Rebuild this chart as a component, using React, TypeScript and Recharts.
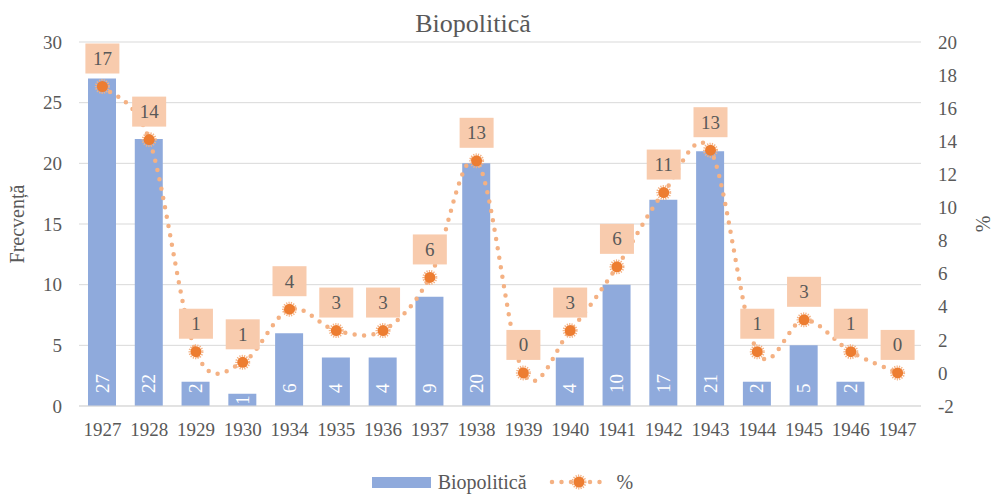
import React from 'react';
import { ComposedChart, Bar, Line, XAxis, YAxis, CartesianGrid, Legend, LabelList } from 'recharts';

const years = ['1927', '1928', '1929', '1930', '1934', '1935', '1936', '1937', '1938', '1939', '1940', '1941', '1942', '1943', '1944', '1945', '1946', '1947'];
const freq = [27, 22, 2, 1, 6, 4, 4, 9, 20, 0, 4, 10, 17, 21, 2, 5, 2, 0];
const pct = [17.31, 14.1, 1.28, 0.64, 3.85, 2.56, 2.56, 5.77, 12.82, 0, 2.56, 6.41, 10.9, 13.46, 1.28, 3.21, 1.28, 0];
const pctLabels = ['17', '14', '1', '1', '4', '3', '3', '6', '13', '0', '3', '6', '11', '13', '1', '3', '1', '0'];
const leftTicks = [0, 5, 10, 15, 20, 25, 30];
const rightTicks = [-2, 0, 2, 4, 6, 8, 10, 12, 14, 16, 18, 20];

const data = years.map((y, i) => ({ year: y, freq: freq[i], pct: pct[i] }));

const FONT = "'Liberation Serif', Tinos, 'DejaVu Serif', serif";
const GREY = '#595959';
const BAR = '#8FAADC';
const LINE = '#F4B183';
const MARK = '#ED7D31';
const BOX = '#F8CBAD';

// Excel-like smoothing (Catmull-Rom as cubic Bezier)
const excelCurve = (context: any) => {
  let pts: number[][] = [];
  return {
    areaStart() {},
    areaEnd() {},
    lineStart() { pts = []; },
    point(x: number, y: number) { pts.push([+x, +y]); },
    lineEnd() {
      if (!pts.length) return;
      context.moveTo(pts[0][0], pts[0][1]);
      for (let i = 0; i < pts.length - 1; i++) {
        const p0 = pts[i - 1] || pts[i];
        const p1 = pts[i];
        const p2 = pts[i + 1];
        const p3 = pts[i + 2] || pts[i + 1];
        const c1x = p1[0] + (p2[0] - p0[0]) / 6;
        const c1y = p1[1] + (p2[1] - p0[1]) / 6;
        const c2x = p2[0] - (p3[0] - p1[0]) / 6;
        const c2y = p2[1] - (p3[1] - p1[1]) / 6;
        context.bezierCurveTo(c1x, c1y, c2x, c2y, p2[0], p2[1]);
      }
    },
  };
};

const Marker = (props: any) => {
  const { cx, cy, index } = props;
  if (cx == null || cy == null) return <g key={`m${index}`} />;
  return (
    <g key={`m${index}`}>
      <circle cx={cx} cy={cy} r={6.5} fill="none" stroke={LINE} strokeWidth={2} strokeDasharray="1.2 1.2" />
      <circle cx={cx} cy={cy} r={5.5} fill={MARK} />
    </g>
  );
};

const PctLabel = (props: any) => {
  const { x, y, index } = props;
  const cy = y - 28;
  return (
    <g>
      <rect x={x - 17} y={cy - 15} width={34} height={30} fill={BOX} />
      <text x={x} y={cy} textAnchor="middle" dominantBaseline="central" fontFamily={FONT} fontSize={19} fill={GREY}>
        {pctLabels[index]}
      </text>
    </g>
  );
};

const BarLabel = (props: any) => {
  const { x, y, width, height, value } = props;
  if (!value) return null;
  const cx = x + width / 2;
  const fits = height >= 24;
  const by = fits ? y + height - 13 : y + height / 2;
  return (
    <text x={cx} y={by} transform={`rotate(-90 ${cx} ${by})`} textAnchor={fits ? 'start' : 'middle'} dominantBaseline="central" fontFamily={FONT} fontSize={19} fill="#FFFFFF">
      {value}
    </text>
  );
};

const LegendContent = () => (
  <div style={{ height: 24, display: 'flex', alignItems: 'center', justifyContent: 'center', fontFamily: FONT, fontSize: 20, color: GREY, paddingLeft: 10 }}>
    <span style={{ display: 'inline-block', width: 59, height: 11, background: BAR, marginRight: 7 }} />
    <span>Biopolitică</span>
    <svg width={60} height={16} style={{ marginLeft: 22, marginRight: 8 }}>
      <line x1={3} y1={8} x2={57} y2={8} stroke={LINE} strokeWidth={4.5} strokeDasharray="0 9.5" strokeLinecap="round" />
      <circle cx={30} cy={8} r={6.5} fill="none" stroke={LINE} strokeWidth={2} strokeDasharray="1.2 1.2" />
      <circle cx={30} cy={8} r={5.5} fill={MARK} />
    </svg>
    <span>%</span>
  </div>
);

export default function App() {
  return (
    <div style={{ position: 'absolute', left: 0, top: 0, width: 995, height: 496, background: '#fff', fontFamily: FONT }}>
      <div style={{ position: 'absolute', left: 373, width: 200, top: 11, textAlign: 'center', fontFamily: FONT, fontSize: 26, lineHeight: '26px', color: GREY, zIndex: 2 }}>
        Biopolitică
      </div>
      <ComposedChart width={995} height={496} data={data} margin={{ top: 42, right: 0, bottom: 36, left: 0 }} barCategoryGap="40%" style={{ fontFamily: FONT }}>
        <CartesianGrid yAxisId="left" vertical={false} stroke="#D9D9D9" strokeWidth={1} />
        <XAxis
          dataKey="year"
          height={30}
          tickLine={false}
          tickSize={0}
          tickMargin={17}
          axisLine={{ stroke: '#D9D9D9' }}
          tick={{ fontFamily: FONT, fontSize: 19, fill: GREY }}
          interval={0}
        />
        <YAxis
          yAxisId="left"
          width={79}
          domain={[0, 30]}
          ticks={leftTicks}
          tickLine={false}
          axisLine={false}
          tickSize={0}
          tickMargin={17}
          tick={{ fontFamily: FONT, fontSize: 19, fill: GREY }}
          label={{
            content: (p: any) => {
              const vb = p.viewBox || {};
              const cx = 17;
              const cy = (vb.y ?? 42) + (vb.height ?? 364) / 2;
              return (
                <text x={cx} y={cy} transform={`rotate(-90 ${cx} ${cy})`} textAnchor="middle" dominantBaseline="central" fontFamily={FONT} fontSize={20} fill={GREY}>
                  Frecvență
                </text>
              );
            },
          }}
        />
        <YAxis
          yAxisId="right"
          orientation="right"
          width={74}
          domain={[-2, 20]}
          ticks={rightTicks}
          tickLine={false}
          axisLine={false}
          tickSize={0}
          tickMargin={17}
          tick={{ fontFamily: FONT, fontSize: 19, fill: GREY }}
          label={{
            content: (p: any) => {
              const vb = p.viewBox || {};
              const cx = 983;
              const cy = (vb.y ?? 42) + (vb.height ?? 364) / 2;
              return (
                <text x={cx} y={cy} transform={`rotate(-90 ${cx} ${cy})`} textAnchor="middle" dominantBaseline="central" fontFamily={FONT} fontSize={20} fill={GREY}>
                  %
                </text>
              );
            },
          }}
        />
        <Legend verticalAlign="bottom" content={<LegendContent />} wrapperStyle={{ top: 470, bottom: 'auto', left: 0, width: 995 }} />
        <Bar yAxisId="left" dataKey="freq" name="Biopolitică" fill={BAR} barSize={28} isAnimationActive={false}>
          <LabelList dataKey="freq" content={<BarLabel />} />
        </Bar>
        <Line
          yAxisId="right"
          dataKey="pct"
          name="%"
          type={excelCurve as any}
          stroke={LINE}
          strokeWidth={4.5}
          strokeDasharray="0 9.5"
          strokeLinecap="round"
          dot={<Marker />}
          activeDot={false}
          isAnimationActive={false}
        >
          <LabelList dataKey="pct" content={<PctLabel />} />
        </Line>
      </ComposedChart>
    </div>
  );
}
